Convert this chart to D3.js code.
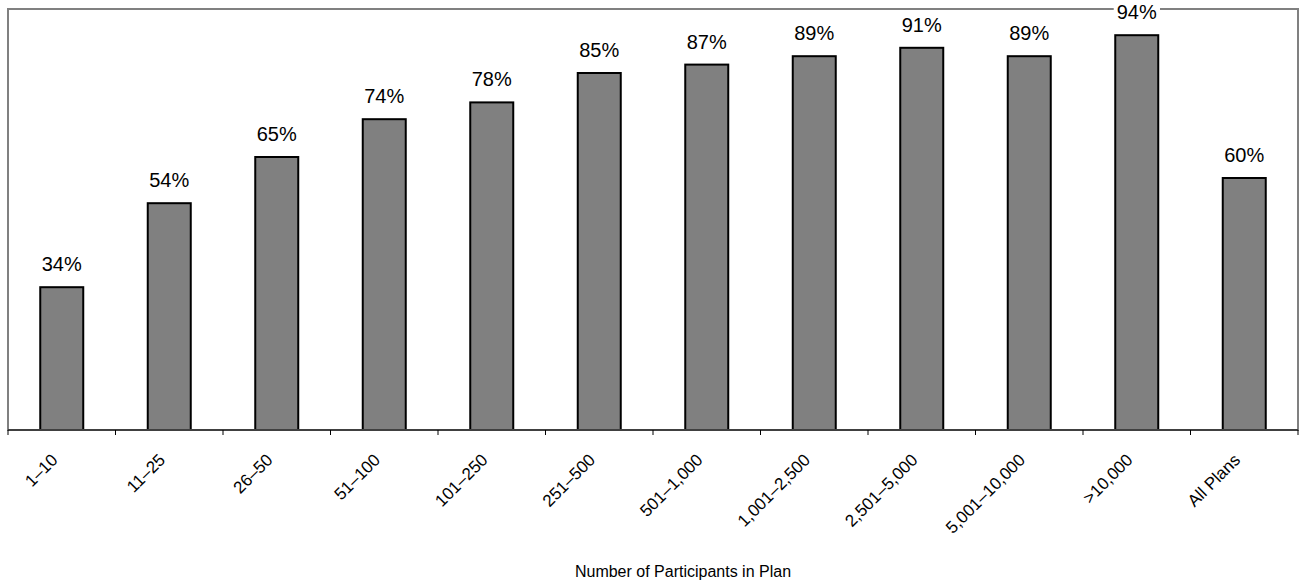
<!DOCTYPE html>
<html>
<head>
<meta charset="utf-8">
<script src="https://cdn.jsdelivr.net/npm/d3@7"></script>
<style>
  html, body { margin: 0; padding: 0; background: #fff; }
  svg { display: block; font-family: "Liberation Sans", Arial, sans-serif; }
</style>
</head>
<body>
<svg id="chart" width="1301" height="583"></svg>
<script>
const categories = ["1\u201310", "11\u201325", "26\u201350", "51\u2013100", "101\u2013250", "251\u2013500",
  "501\u20131,000", "1,001\u20132,500", "2,501\u20135,000", "5,001\u201310,000", ">10,000", "All Plans"];
const values = [34, 54, 65, 74, 78, 85, 87, 89, 91, 89, 94, 60];
const valueLabels = ["34%", "54%", "65%", "74%", "78%", "85%", "87%", "89%", "91%", "89%", "94%", "60%"];
const xTitle = "Number of Participants in Plan";

const svg = d3.select("#chart");
const pLeft = 8, pRight = 1298, pTop = 9, pBottom = 430;

const x = d3.scaleBand().domain(categories).range([pLeft, pRight]).paddingInner(0.6).paddingOuter(0.3);
const xEdges = d3.scaleBand().domain(categories).range([pLeft, pRight]).padding(0);
const y = d3.scaleLinear().domain([0, 100]).range([pBottom, pTop + 1]);

// plot area border
svg.append("rect")
  .attr("x", pLeft).attr("y", pTop)
  .attr("width", pRight - pLeft).attr("height", pBottom - pTop)
  .attr("fill", "#fff").attr("stroke", "#808080").attr("stroke-width", 2);

// bars
svg.selectAll("rect.bar").data(values).join("rect")
  .attr("class", "bar")
  .attr("x", (d, i) => x(categories[i]))
  .attr("width", x.bandwidth())
  .attr("y", d => y(d))
  .attr("height", d => pBottom - y(d))
  .attr("fill", "#808080").attr("stroke", "#000").attr("stroke-width", 2);

// axis line
svg.append("line").attr("x1", pLeft).attr("x2", pRight).attr("y1", pBottom).attr("y2", pBottom)
  .attr("stroke", "#404040").attr("stroke-width", 2);

// ticks at category boundaries
const tickPos = categories.map(c => xEdges(c)).concat([pRight]);
svg.selectAll("line.tick").data(tickPos).join("line")
  .attr("class", "tick")
  .attr("x1", d => d).attr("x2", d => d)
  .attr("y1", pBottom).attr("y2", pBottom + 5)
  .attr("stroke", "#000").attr("stroke-width", 1);

// value labels
const lbl = svg.selectAll("g.vl").data(values).join("g").attr("class", "vl");
lbl.each(function(d, i) {
  const g = d3.select(this);
  const cx = x(categories[i]) + x.bandwidth() / 2;
  const t = g.append("text")
    .attr("x", cx).attr("y", y(d) - 16)
    .attr("text-anchor", "middle")
    .attr("font-size", 20).attr("fill", "#000")
    .text(valueLabels[i]);
  if (y(d) - 16 - 14 < pTop + 2) {
    const bb = t.node().getBBox();
    g.insert("rect", "text")
      .attr("x", bb.x - 3).attr("y", bb.y).attr("width", bb.width + 6).attr("height", bb.height)
      .attr("fill", "#fff");
  }
});

// category labels
svg.selectAll("text.cat").data(categories).join("text")
  .attr("class", "cat")
  .attr("transform", d => `translate(${x(d) + x.bandwidth() / 2 - 3},${pBottom + 31}) rotate(-45)`)
  .attr("text-anchor", "end")
  .attr("font-size", 17).attr("fill", "#000")
  .text(d => d);

// axis title
svg.append("text")
  .attr("x", 683).attr("y", 577)
  .attr("text-anchor", "middle")
  .attr("font-size", 16).attr("fill", "#000")
  .text(xTitle);
</script>
</body>
</html>
